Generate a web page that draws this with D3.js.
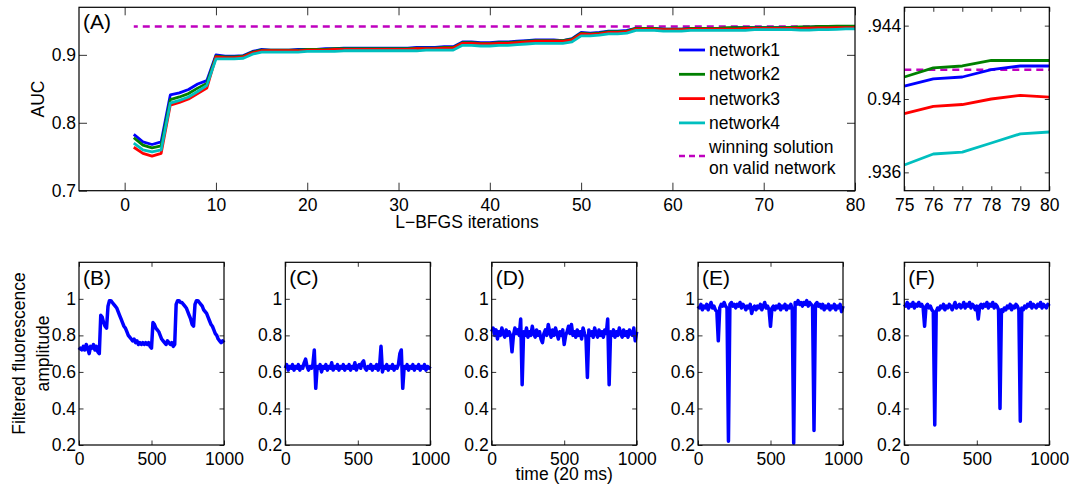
<!DOCTYPE html>
<html>
<head>
<meta charset="utf-8">
<script src="https://cdn.jsdelivr.net/npm/d3@7"></script>
<style>
  body { margin: 0; background: #fff; }
  text { font-family: "Liberation Sans", Arial, Helvetica, sans-serif; fill: #000; }
</style>
</head>
<body>
<svg id="chart"></svg>
<script>
// ---- data ----
const iterations = d3.range(1, 81);
const networkNames = ["network1", "network2", "network3", "network4"];
const networkColors = ["#0000ff", "#008000", "#ff0000", "#00bfbf"];

const auc1 = [0.783,0.772,0.768,0.772,0.841,0.844,0.849,0.857,0.862,0.900,
  0.898,0.898,0.899,0.905,0.908,0.907,0.907,0.907,0.908,0.908,
  0.908,0.909,0.909,0.910,0.910,0.910,0.910,0.910,0.910,0.910,
  0.910,0.911,0.911,0.911,0.912,0.912,0.919,0.919,0.918,0.918,
  0.919,0.919,0.920,0.921,0.922,0.922,0.922,0.921,0.924,0.933,
  0.932,0.933,0.935,0.935,0.936,0.939,0.939,0.939,0.938,0.938,
  0.938,0.939,0.939,0.939,0.939,0.939,0.940,0.940,0.940,0.940,
  0.940,0.940,0.940,0.9405,0.9407,0.9411,0.9412,0.9416,0.9418,0.9418];
const auc2 = [0.778,0.767,0.763,0.766,0.834,0.838,0.843,0.851,0.858,0.898,
  0.897,0.897,0.898,0.904,0.907,0.907,0.907,0.907,0.907,0.908,
  0.908,0.908,0.909,0.909,0.909,0.909,0.909,0.909,0.909,0.909,
  0.909,0.910,0.910,0.910,0.911,0.911,0.918,0.918,0.917,0.917,
  0.918,0.918,0.919,0.920,0.921,0.921,0.921,0.921,0.923,0.932,
  0.931,0.932,0.934,0.934,0.935,0.939,0.939,0.939,0.938,0.938,
  0.938,0.939,0.939,0.939,0.939,0.940,0.940,0.940,0.940,0.940,
  0.940,0.940,0.9405,0.941,0.9412,0.9417,0.9418,0.9421,0.9421,0.9421];
const auc3 = [0.764,0.755,0.751,0.755,0.826,0.830,0.835,0.843,0.851,0.897,
  0.896,0.896,0.897,0.903,0.906,0.906,0.906,0.906,0.906,0.907,
  0.907,0.907,0.908,0.908,0.908,0.908,0.908,0.908,0.908,0.908,
  0.908,0.909,0.909,0.909,0.910,0.910,0.917,0.917,0.916,0.916,
  0.917,0.917,0.918,0.919,0.920,0.920,0.920,0.920,0.922,0.931,
  0.930,0.931,0.933,0.933,0.934,0.938,0.938,0.938,0.937,0.937,
  0.937,0.938,0.938,0.938,0.938,0.938,0.938,0.939,0.939,0.939,
  0.939,0.939,0.939,0.939,0.9392,0.9396,0.9397,0.9400,0.9402,0.9401];
const auc4 = [0.770,0.760,0.757,0.760,0.829,0.833,0.838,0.846,0.855,0.894,
  0.894,0.894,0.895,0.901,0.904,0.904,0.904,0.904,0.904,0.905,
  0.905,0.905,0.905,0.906,0.906,0.906,0.906,0.906,0.906,0.906,
  0.906,0.906,0.907,0.907,0.907,0.907,0.914,0.914,0.913,0.913,
  0.914,0.914,0.915,0.916,0.917,0.917,0.917,0.917,0.919,0.928,
  0.928,0.929,0.931,0.931,0.932,0.936,0.936,0.936,0.935,0.935,
  0.935,0.936,0.936,0.936,0.936,0.936,0.936,0.936,0.937,0.937,
  0.937,0.937,0.937,0.9365,0.9364,0.9370,0.9371,0.9376,0.9381,0.9382];
const winningAuc = 0.9416;

const aucXTicks = [0, 10, 20, 30, 40, 50, 60, 70, 80];
const aucYTicks = [0.7, 0.8, 0.9];
const insetXTicks = [75, 76, 77, 78, 79, 80];
const insetYTicks = [0.936, 0.94, 0.944];
const insetYLabels = [".936", "0.94", ".944"];

// fluorescence traces, one value every 10 frames (t = 0..1000)
const traceLabels = ["(B)", "(C)", "(D)", "(E)", "(F)"];
const traceB = [0.72,0.73,0.72,0.74,0.72,0.75,0.73,0.70,0.74,0.73,
  0.75,0.72,0.74,0.71,0.70,0.91,0.90,0.87,0.85,0.84,
  0.96,0.99,0.99,0.98,0.97,0.96,0.95,0.93,0.91,0.89,
  0.87,0.85,0.84,0.82,0.80,0.79,0.78,0.77,0.78,0.76,
  0.77,0.75,0.76,0.75,0.76,0.75,0.76,0.75,0.76,0.74,
  0.73,0.87,0.86,0.84,0.83,0.82,0.80,0.78,0.77,0.76,
  0.75,0.77,0.76,0.75,0.76,0.74,0.75,0.97,0.99,0.99,
  0.98,0.98,0.97,0.96,0.95,0.93,0.91,0.89,0.86,0.85,
  0.97,0.99,0.99,0.98,0.97,0.96,0.94,0.93,0.92,0.90,
  0.88,0.86,0.85,0.83,0.81,0.80,0.78,0.77,0.76,0.77,0.76];
const traceC = [0.62,0.64,0.61,0.63,0.62,0.64,0.61,0.63,0.62,0.64,
  0.61,0.63,0.62,0.65,0.67,0.63,0.61,0.63,0.62,0.64,
  0.72,0.51,0.63,0.62,0.64,0.60,0.63,0.62,0.64,0.61,
  0.63,0.62,0.65,0.61,0.63,0.62,0.64,0.61,0.63,0.62,
  0.64,0.61,0.63,0.62,0.64,0.61,0.63,0.62,0.65,0.61,
  0.63,0.64,0.62,0.65,0.66,0.62,0.61,0.63,0.62,0.64,
  0.61,0.63,0.62,0.64,0.61,0.63,0.74,0.60,0.63,0.62,
  0.64,0.61,0.63,0.62,0.64,0.61,0.63,0.62,0.64,0.70,
  0.72,0.51,0.63,0.62,0.64,0.61,0.63,0.62,0.64,0.61,
  0.63,0.62,0.64,0.61,0.63,0.62,0.64,0.61,0.63,0.62,0.63];
const traceD = [0.82,0.84,0.80,0.83,0.78,0.82,0.80,0.84,0.81,0.79,
  0.83,0.80,0.82,0.80,0.71,0.80,0.84,0.81,0.83,0.80,
  0.89,0.53,0.82,0.80,0.84,0.79,0.82,0.80,0.85,0.81,
  0.79,0.83,0.80,0.82,0.78,0.76,0.81,0.83,0.80,0.86,
  0.82,0.79,0.83,0.80,0.84,0.81,0.78,0.82,0.80,0.83,
  0.75,0.80,0.82,0.85,0.81,0.86,0.80,0.82,0.79,0.83,
  0.80,0.82,0.78,0.84,0.81,0.79,0.57,0.83,0.80,0.82,
  0.79,0.84,0.81,0.79,0.83,0.80,0.82,0.79,0.83,0.81,
  0.89,0.53,0.82,0.80,0.83,0.79,0.82,0.80,0.84,0.81,
  0.79,0.83,0.80,0.82,0.79,0.83,0.81,0.80,0.84,0.77,0.82];
const traceE = [0.96,0.95,0.97,0.94,0.96,0.95,0.97,0.94,0.96,0.98,
  0.95,0.96,0.94,0.93,0.77,0.95,0.97,0.96,0.98,0.96,
  0.95,0.22,0.97,0.98,0.96,0.97,0.95,0.97,0.96,0.98,
  0.95,0.97,0.96,0.94,0.96,0.95,0.97,0.92,0.95,0.96,
  0.94,0.96,0.95,0.97,0.94,0.96,0.98,0.95,0.96,0.94,
  0.85,0.95,0.96,0.94,0.96,0.95,0.97,0.94,0.96,0.95,
  0.97,0.94,0.96,0.95,0.97,0.94,0.21,0.98,0.97,0.99,
  0.97,0.98,0.96,0.98,0.97,0.99,0.96,0.98,0.97,0.96,
  0.28,0.97,0.98,0.96,0.97,0.95,0.97,0.94,0.96,0.95,
  0.97,0.94,0.96,0.95,0.97,0.94,0.96,0.95,0.97,0.93,0.96];
const traceF = [0.97,0.96,0.98,0.95,0.97,0.96,0.98,0.95,0.97,0.96,
  0.98,0.96,0.97,0.95,0.85,0.96,0.97,0.95,0.96,0.94,
  0.93,0.31,0.93,0.95,0.94,0.96,0.95,0.97,0.94,0.96,
  0.95,0.97,0.96,0.94,0.96,0.98,0.95,0.96,0.97,0.95,
  0.96,0.98,0.95,0.97,0.96,0.98,0.95,0.97,0.96,0.94,
  0.96,0.89,0.96,0.97,0.95,0.97,0.96,0.98,0.95,0.97,
  0.96,0.98,0.95,0.97,0.96,0.94,0.40,0.94,0.93,0.95,
  0.94,0.96,0.95,0.97,0.94,0.96,0.95,0.97,0.96,0.94,
  0.33,0.95,0.94,0.96,0.95,0.97,0.96,0.98,0.95,0.97,
  0.96,0.95,0.97,0.96,0.98,0.95,0.97,0.96,0.95,0.97,0.96];
const traces = [traceB, traceC, traceD, traceE, traceF];
const timeTicks = [0, 500, 1000];
const ampTicks = [0.2, 0.4, 0.6, 0.8, 1];

// ---- drawing ----
const width = 1071, height = 484;
const svg = d3.select("#chart").attr("width", width).attr("height", height);
const fs = 17.5;

function box(g, x, y) {
  const [x0, x1] = x.range(), [y0, y1] = y.range();
  g.append("rect")
    .attr("x", x0).attr("y", y1)
    .attr("width", x1 - x0).attr("height", y0 - y1)
    .attr("fill", "none").attr("stroke", "#000").attr("stroke-width", 1.2);
}

function axes(g, x, y, xt, yt, tick, xfmt, yfmt) {
  const [x0, x1] = x.range(), [y0, y1] = y.range();
  const style = sel => {
    sel.select(".domain").remove();
    sel.selectAll("line").attr("stroke", "#333");
    sel.selectAll("text").attr("font-size", fs).attr("font-family", null).attr("fill", "#000");
  };
  g.append("g").attr("transform", `translate(0,${y0})`)
    .call(d3.axisBottom(x).tickValues(xt).tickSize(-tick).tickPadding(7.5).tickFormat(xfmt)).call(style);
  g.append("g").attr("transform", `translate(0,${y1})`)
    .call(d3.axisTop(x).tickValues(xt).tickSize(-tick).tickFormat("")).call(style);
  g.append("g").attr("transform", `translate(${x0},0)`)
    .call(d3.axisLeft(y).tickValues(yt).tickSize(-tick).tickPadding(3).tickFormat(yfmt)).call(style);
  g.append("g").attr("transform", `translate(${x1},0)`)
    .call(d3.axisRight(y).tickValues(yt).tickSize(-tick).tickFormat("")).call(style);
  box(g, x, y);
}

// panel A
const aucSeries = [auc1, auc2, auc3, auc4];
const xA = d3.scaleLinear().domain([-5, 80]).range([79, 855]);
const yA = d3.scaleLinear().domain([0.7, 0.97]).range([190.7, 7.3]);
const gA = svg.append("g");

const lineA = d3.line().x((d, i) => xA(iterations[i])).y(d => yA(d));
gA.append("path")
  .attr("d", d3.line()([[xA(iterations[0]), yA(winningAuc)], [xA(80), yA(winningAuc)]]))
  .attr("fill", "none").attr("stroke", "#bf00bf").attr("stroke-width", 2.5)
  .attr("stroke-dasharray", "7,5").attr("stroke-dashoffset", -9);
aucSeries.forEach((s, k) => {
  gA.append("path").attr("d", lineA(s))
    .attr("fill", "none").attr("stroke", networkColors[k])
    .attr("stroke-width", 2.8).attr("stroke-linejoin", "round");
});
axes(gA, xA, yA, aucXTicks, aucYTicks, 8, d3.format("d"), d3.format(".1f"));

gA.append("text").attr("x", 83).attr("y", 28.5).attr("font-size", 21).text("(A)");
gA.append("text").attr("transform", `translate(44,${(7.3 + 190.7) / 2}) rotate(-90)`)
  .attr("text-anchor", "middle").attr("font-size", fs).text("AUC");
gA.append("text").attr("x", (79 + 855) / 2).attr("y", 227.5).attr("text-anchor", "middle")
  .attr("font-size", fs).text("L\u2212BFGS iterations");

// legend
const legend = gA.append("g");
networkNames.forEach((name, k) => {
  const ly = 50 + k * 24.3;
  legend.append("line").attr("x1", 679).attr("x2", 705).attr("y1", ly).attr("y2", ly)
    .attr("stroke", networkColors[k]).attr("stroke-width", 2.8);
  legend.append("text").attr("x", 709).attr("y", ly).attr("dy", "0.35em")
    .attr("font-size", fs).text(name);
});
legend.append("line").attr("x1", 679).attr("x2", 705).attr("y1", 156).attr("y2", 156)
  .attr("stroke", "#bf00bf").attr("stroke-width", 2.5).attr("stroke-dasharray", "6,4");
legend.append("text").attr("x", 709).attr("y", 147).attr("dy", "0.35em").attr("font-size", fs).text("winning solution");
legend.append("text").attr("x", 709).attr("y", 167.5).attr("dy", "0.35em").attr("font-size", fs).text("on valid network");

// inset (zoom on last iterations)
const xI = d3.scaleLinear().domain([75, 80]).range([904.3, 1049.3]);
const yI = d3.scaleLinear().domain([0.935, 0.945]).range([190.7, 7.3]);
const gI = svg.append("g");
const tail = iterations.slice(74);
const lineI = d3.line().x((d, i) => xI(tail[i])).y(d => yI(d));
gI.append("path")
  .attr("d", d3.line()([[xI(75), yI(winningAuc)], [xI(80), yI(winningAuc)]]))
  .attr("fill", "none").attr("stroke", "#bf00bf").attr("stroke-width", 2.5)
  .attr("stroke-dasharray", "7,5");
aucSeries.forEach((s, k) => {
  gI.append("path").attr("d", lineI(s.slice(74)))
    .attr("fill", "none").attr("stroke", networkColors[k])
    .attr("stroke-width", 2.8).attr("stroke-linejoin", "round");
});
axes(gI, xI, yI, insetXTicks, insetYTicks, 4.5, d3.format("d"), (d, i) => insetYLabels[i]);

// panels B-F
const lefts = [79, 285.3, 491.7, 698, 904.3];
const panelW = 145;
traces.forEach((tr, p) => {
  const x = d3.scaleLinear().domain([0, 1000]).range([lefts[p], lefts[p] + panelW]);
  const y = d3.scaleLinear().domain([0.2, 1.2]).range([445, 262.3]);
  const g = svg.append("g");
  g.append("path")
    .attr("d", d3.line().x((d, i) => x(i * 10)).y(d => y(d))(tr))
    .attr("fill", "none").attr("stroke", "#0000ff").attr("stroke-width", 3.5)
    .attr("stroke-linejoin", "round");
  axes(g, x, y, timeTicks, ampTicks, 4.5, d3.format("d"), d => (d === 1 ? "1" : d.toFixed(1)));
  g.append("text").attr("x", lefts[p] + 4).attr("y", 285).attr("font-size", 21).text(traceLabels[p]);
});

svg.append("text").attr("x", 491.7 + panelW / 2).attr("y", 479.5).attr("text-anchor", "middle")
  .attr("font-size", fs).text("time (20 ms)");
const ylab = svg.append("text").attr("transform", `translate(0,353.5) rotate(-90)`)
  .attr("text-anchor", "middle").attr("font-size", fs);
ylab.append("tspan").attr("x", 0).attr("y", 24.5).text("Filtered fluorescence");
ylab.append("tspan").attr("x", 0).attr("y", 49).text("amplitude");
</script>
</body>
</html>
